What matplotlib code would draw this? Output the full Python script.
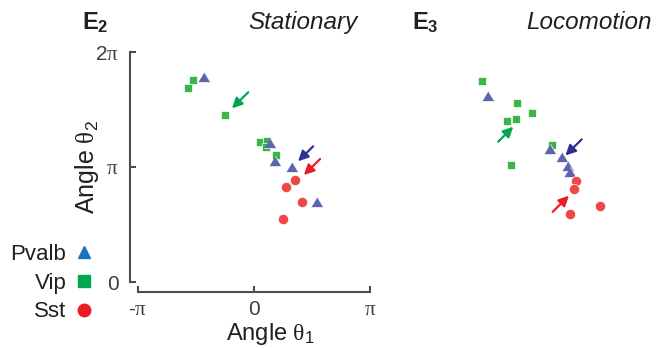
import numpy as np
import matplotlib
matplotlib.use("Agg")
import matplotlib.pyplot as plt
from matplotlib.lines import Line2D

plt.rcParams['font.family'] = 'Liberation Sans'
plt.rcParams['mathtext.fontset'] = 'custom'
plt.rcParams['mathtext.rm'] = 'Liberation Serif'
plt.rcParams['mathtext.sf'] = 'Liberation Sans'
plt.rcParams['mathtext.it'] = 'Liberation Sans:italic'
plt.rcParams['mathtext.bf'] = 'Liberation Sans:bold'

# angles in units of pi
# --- E2, stationary
stat_vip_x = [-0.53, -0.57, -0.25, 0.05, 0.11, 0.10, 0.19]
stat_vip_y = [1.76, 1.69, 1.45, 1.22, 1.23, 1.17, 1.10]
stat_pv_x = [-0.43, 0.14, 0.18, 0.33, 0.54]
stat_pv_y = [1.77, 1.20, 1.04, 0.99, 0.69]
stat_sst_x = [0.35, 0.28, 0.41, 0.25]
stat_sst_y = [0.89, 0.83, 0.70, 0.55]
# arrows: (tail x, tail y, head x, head y)
stat_arrows = [(-0.05, 1.65, -0.19, 1.51),
               (0.51, 1.18, 0.38, 1.05),
               (0.57, 1.07, 0.43, 0.93)]

# --- E3, locomotion
loco_vip_x = [-0.88, -0.58, -0.45, -0.59, -0.66, -0.28, -0.63]
loco_vip_y = [1.75, 1.56, 1.47, 1.42, 1.40, 1.19, 1.02]
loco_pv_x = [-0.83, -0.29, -0.19, -0.14, -0.12]
loco_pv_y = [1.61, 1.15, 1.08, 1.00, 0.95]
loco_sst_x = [-0.07, -0.09, 0.14, -0.12]
loco_sst_y = [0.88, 0.81, 0.66, 0.59]
loco_arrows = [(-0.74, 1.22, -0.61, 1.35),
               (-0.02, 1.24, -0.16, 1.10),
               (-0.27, 0.61, -0.13, 0.75)]

arrow_colors = ['#00A651', '#2E3192', '#ED1C24']
vip_c = '#3AB54A'
pv_c = '#5F64AF'
sst_c = '#EF4848'
tri = [(-1, -0.65), (1, -0.65), (0, 1.0)]

fig = plt.figure(figsize=(6.58, 3.48), dpi=100)
ax1 = fig.add_axes([138/658, 66/348, 232/658, 230/348])
ax2 = fig.add_axes([468/658, 66/348, 232/658, 230/348])

def draw(ax, vx, vy, px, py, sx, sy, arrows):
    ax.scatter(np.array(vx)*np.pi, np.array(vy)*np.pi, marker='s', s=40,
               c=vip_c, edgecolors='white', linewidths=0.5, zorder=3)
    ax.scatter(np.array(px)*np.pi, np.array(py)*np.pi, marker=tri, s=80,
               c=pv_c, edgecolors='white', linewidths=0.5, zorder=4)
    ax.scatter(np.array(sx)*np.pi, np.array(sy)*np.pi, marker='o', s=55,
               c=sst_c, edgecolors='white', linewidths=0.5, zorder=5)
    for (x0, y0, x1, y1), col in zip(arrows, arrow_colors):
        ax.annotate('', xy=(x1*np.pi, y1*np.pi), xytext=(x0*np.pi, y0*np.pi),
                    arrowprops=dict(arrowstyle='-|>,head_length=0.6,head_width=0.3',
                                    color=col, lw=1.6, shrinkA=0, shrinkB=0),
                    zorder=6)
    ax.set_xlim(-np.pi, np.pi)
    ax.set_ylim(0, 2*np.pi)

draw(ax1, stat_vip_x, stat_vip_y, stat_pv_x, stat_pv_y, stat_sst_x, stat_sst_y, stat_arrows)
draw(ax2, loco_vip_x, loco_vip_y, loco_pv_x, loco_pv_y, loco_sst_x, loco_sst_y, loco_arrows)

# left panel axes
for s in ['top', 'right']:
    ax1.spines[s].set_visible(False)
ax1.spines['left'].set_position(('outward', 6))
ax1.spines['bottom'].set_position(('outward', 7))
for s in ['left', 'bottom']:
    ax1.spines[s].set_color('#4D4D4D')
    ax1.spines[s].set_linewidth(1.5)
ax1.spines['left'].set_bounds(0, 2*np.pi)
ax1.spines['bottom'].set_bounds(-np.pi, np.pi)
ax1.set_xticks([-np.pi, 0, np.pi])
ax1.set_xticklabels([r'-$\mathrm{\pi}$', '0', r'$\mathrm{\pi}$'])
ax1.set_yticks([0, np.pi, 2*np.pi])
ax1.set_yticklabels(['0', r'$\mathrm{\pi}$', r'2$\mathrm{\pi}$'])
ax1.tick_params(direction='in', length=4, width=1.5, color='#4D4D4D',
                labelsize=15, labelcolor='#404040')
ax1.tick_params(axis='y', pad=8)
ax1.tick_params(axis='x', pad=6)
ax1.patch.set_visible(False)

ax1.set_xlabel(r'Angle $\mathrm{\theta}_{\mathsf{1}}$', fontsize=17, color='#231F20')
ax1.set_ylabel(r'Angle $\mathrm{\theta}_{\mathsf{2}}$', fontsize=18, color='#231F20')
ax1.xaxis.set_label_coords(0.57, -0.17)
ax1.yaxis.set_label_coords(-0.16, 0.5)

ax2.axis('off')

# panel titles
fig.text(82/658, 1 - 29/348, r'$\mathbf{E_2}$', fontsize=17, color='#231F20')
fig.text(358/658, 1 - 29/348, 'Stationary', fontsize=17.5, style='italic',
         ha='right', color='#231F20')
fig.text(412/658, 1 - 29/348, r'$\mathbf{E_3}$', fontsize=17, color='#231F20')
fig.text(652/658, 1 - 29/348, 'Locomotion', fontsize=17.5, style='italic',
         ha='right', color='#231F20')

# cell-type key
handles = [Line2D([], [], ls='', marker='^', ms=9, color='#1C75BC'),
           Line2D([], [], ls='', marker='s', ms=8, color='#00A651'),
           Line2D([], [], ls='', marker='o', ms=9, color='#ED1C24')]
fig.legend(handles, ['Pvalb', 'Vip', 'Sst'], markerfirst=False, frameon=False,
           loc='center right', bbox_to_anchor=(93/658, 1 - 283/348),
           fontsize=16, handlelength=0.8, handletextpad=0.4, labelspacing=0.35,
           borderpad=0, borderaxespad=0, labelcolor='#231F20')

fig.savefig('out.png', dpi=100)
